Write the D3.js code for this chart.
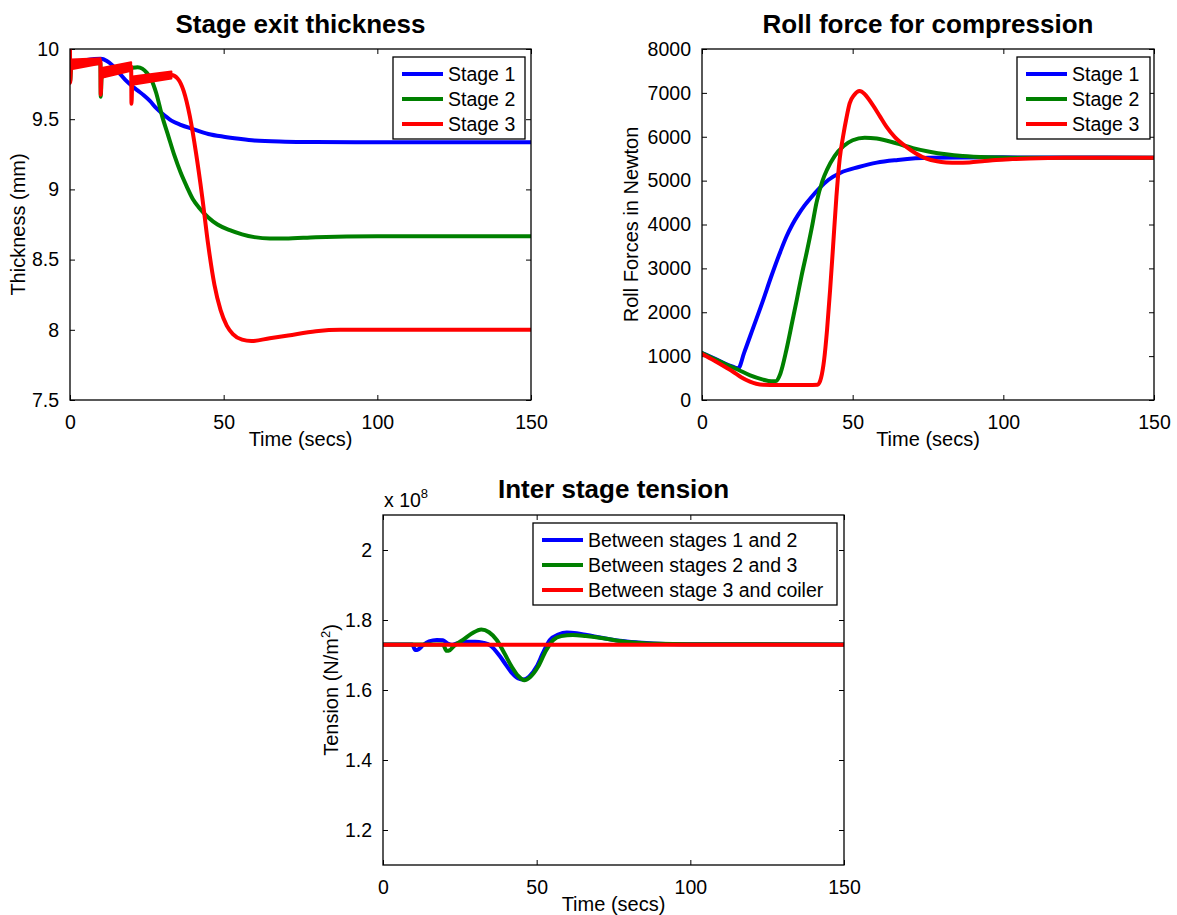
<!DOCTYPE html>
<html>
<head>
<meta charset="utf-8">
<script src="https://cdn.jsdelivr.net/npm/d3@7"></script>
<style>
  html, body { margin: 0; padding: 0; background: #fff; }
  svg { display: block; font-family: "Liberation Sans", Arial, sans-serif; }
</style>
</head>
<body>
<svg id="chart" width="1177" height="915"></svg>
<script>
// ---------------- DATA ----------------
const seriesColors = ["#0000ff", "#008000", "#ff0000"];

const timeTicks = [0, 50, 100, 150];
const timeTickLabels = ["0", "50", "100", "150"];

// Stage exit thickness (mm)
const thickTicks = [7.5, 8, 8.5, 9, 9.5, 10];
const thickTickLabels = ["7.5", "8", "8.5", "9", "9.5", "10"];
const thickLegend = ["Stage 1", "Stage 2", "Stage 3"];

const thickS1Time = [0, 5, 10, 12, 14, 16, 18, 20, 22, 24, 26, 28, 30, 33, 36, 40, 45, 50, 55, 60, 70, 80, 100, 150];
const thickS1 = [9.9, 9.92, 9.93, 9.915, 9.88, 9.83, 9.78, 9.74, 9.705, 9.67, 9.63, 9.58, 9.54, 9.49, 9.46, 9.43, 9.395, 9.375, 9.36, 9.348, 9.34, 9.337, 9.335, 9.335];

const thickS2Time = [0, 0.05, 0.4, 9.9, 10.0, 10.3, 19.9, 22, 23.5, 25, 26.5, 28, 30, 32, 34, 36, 38, 40, 42, 45, 48, 52, 56, 60, 65, 70, 80, 100, 150];
const thickS2 = [9.99, 9.77, 9.875, 9.9, 9.66, 9.8, 9.865, 9.87, 9.86, 9.83, 9.78, 9.69, 9.52, 9.38, 9.24, 9.12, 9.02, 8.93, 8.87, 8.8, 8.75, 8.71, 8.68, 8.66, 8.65, 8.65, 8.66, 8.667, 8.667];

const thickS3Time = [0, 0.05, 0.4, 9.9, 10.0, 10.3, 19.9, 20.0, 20.3, 33, 35, 37, 39, 41, 43, 45, 47, 49, 51, 53, 56, 59, 65, 71, 80, 88, 150];
const thickS3 = [10.0, 9.76, 9.89, 9.915, 9.675, 9.83, 9.875, 9.61, 9.775, 9.815, 9.79, 9.7, 9.52, 9.26, 8.95, 8.6, 8.32, 8.14, 8.03, 7.97, 7.93, 7.92, 7.94, 7.96, 7.99, 8.0, 8.0];

// ripple envelope of stage 3 during the early sawtooth phase (NaN = gap)
const rippleTime = [0.4, 9.9, NaN, 10.3, 19.9, NaN, 20.3, 33];
const rippleHigh = [9.925, 9.935, NaN, 9.865, 9.905, NaN, 9.805, 9.84];
const rippleLow = [9.855, 9.895, NaN, 9.795, 9.845, NaN, 9.745, 9.79];

// Roll force (Newton)
const forceTicks = [0, 1000, 2000, 3000, 4000, 5000, 6000, 7000, 8000];
const forceTickLabels = ["0", "1000", "2000", "3000", "4000", "5000", "6000", "7000", "8000"];
const forceLegend = ["Stage 1", "Stage 2", "Stage 3"];

const forceS1Time = [0, 4, 8, 11, 12, 14, 17, 20, 23, 26, 28, 30, 32, 34, 36, 39, 42, 46, 52, 58, 65, 75, 100, 150];
const forceS1 = [1070, 950, 820, 740, 720, 1080, 1650, 2220, 2820, 3380, 3720, 4000, 4230, 4430, 4600, 4830, 5020, 5180, 5310, 5410, 5470, 5520, 5530, 5520];

const forceS2Time = [0, 4, 8, 12, 16, 20, 23, 24.5, 26, 28, 30, 31.5, 33, 34.7, 36.5, 38, 40, 41.5, 44, 47, 50, 54, 58, 64.5, 70, 75.5, 81, 86.5, 95, 103, 150];
const forceS2 = [1070, 940, 810, 690, 560, 470, 425, 430, 600, 1140, 1800, 2300, 2820, 3350, 3950, 4500, 5000, 5250, 5560, 5790, 5920, 5980, 5960, 5850, 5740, 5660, 5600, 5560, 5530, 5520, 5520];

const forceS3Time = [0, 4, 8, 10.3, 13, 15.9, 18, 20.2, 25, 30, 35, 38.4, 39.5, 40.5, 41.5, 42.5, 43.5, 44.6, 45.7, 46.8, 48, 49, 50.5, 52.3, 54, 56.7, 59, 61.2, 64, 67.8, 71, 74.5, 78, 81, 85, 88.7, 93, 97.6, 103, 108.6, 120, 150];
const forceS3 = [1050, 900, 740, 645, 520, 420, 370, 345, 340, 340, 340, 350, 500, 900, 1600, 2500, 3500, 4630, 5500, 6000, 6450, 6760, 6950, 7040, 6970, 6720, 6470, 6230, 5990, 5770, 5620, 5500, 5440, 5415, 5405, 5415, 5440, 5470, 5490, 5505, 5520, 5520];

// Inter stage tension (x 1e8 N/m^2)
const tensionTicks = [1.2, 1.4, 1.6, 1.8, 2.0];
const tensionTickLabels = ["1.2", "1.4", "1.6", "1.8", "2"];
const tensionLegend = ["Between stages 1 and 2", "Between stages 2 and 3", "Between stage 3 and coiler"];

const tensionS1Time = [0, 9.5, 10.5, 11.5, 13, 15, 17.5, 19.5, 21, 22.3, 24, 27, 30, 32.5, 35, 38, 40, 42, 44, 45.7, 47.5, 50, 52, 54.3, 57, 59.8, 63, 66.3, 72, 77, 83, 88, 96, 150];
const tensionS1 = [1.73, 1.73, 1.714, 1.716, 1.728, 1.739, 1.743, 1.742, 1.733, 1.729, 1.733, 1.738, 1.738, 1.735, 1.727, 1.697, 1.672, 1.648, 1.633, 1.630, 1.638, 1.667, 1.705, 1.743, 1.758, 1.764, 1.762, 1.757, 1.748, 1.741, 1.736, 1.733, 1.731, 1.73];

const tensionS2Time = [0, 19.5, 20.7, 21.8, 23, 26, 29, 32, 34.5, 37, 39.5, 42, 44, 46, 48, 50.5, 53, 55.4, 58, 61.8, 66, 71.6, 77, 82.5, 90, 100, 150];
const tensionS2 = [1.73, 1.73, 1.712, 1.714, 1.725, 1.743, 1.762, 1.773, 1.765, 1.743, 1.705, 1.665, 1.640, 1.628, 1.638, 1.667, 1.712, 1.743, 1.754, 1.757, 1.754, 1.748, 1.740, 1.735, 1.732, 1.731, 1.73];

const tensionS3Time = [0, 150];
const tensionS3 = [1.729, 1.729];

// ---------------- DRAWING ----------------
const svg = d3.select("#chart");
let clipId = 0;

function panel(cfg) {
  const x = d3.scaleLinear().domain([0, 150]).range([cfg.x0, cfg.x1]);
  const y = d3.scaleLinear().domain(cfg.yDomain).range([cfg.y1, cfg.y0]);
  const g = svg.append("g");
  const id = "clip" + (clipId++);
  svg.append("clipPath").attr("id", id).append("rect")
    .attr("x", cfg.x0).attr("y", cfg.y0).attr("width", cfg.x1 - cfg.x0).attr("height", cfg.y1 - cfg.y0);

  // frame ticks (inward, all four sides)
  const tl = 5;
  const axB = d3.axisBottom(x).tickValues(timeTicks).tickFormat((d, i) => timeTickLabels[i]).tickSizeInner(-tl).tickSizeOuter(0).tickPadding(tl + 10);
  g.append("g").attr("transform", `translate(0,${cfg.y1})`).call(axB);
  const axT = d3.axisTop(x).tickValues(timeTicks).tickFormat("").tickSizeInner(-tl).tickSizeOuter(0);
  g.append("g").attr("transform", `translate(0,${cfg.y0})`).call(axT);
  const axL = d3.axisLeft(y).tickValues(cfg.yTicks).tickFormat((d, i) => cfg.yTickLabels[i]).tickSizeInner(-tl).tickSizeOuter(0).tickPadding(tl + 6);
  g.append("g").attr("transform", `translate(${cfg.x0},0)`).call(axL);
  const axR = d3.axisRight(y).tickValues(cfg.yTicks).tickFormat("").tickSizeInner(-tl).tickSizeOuter(0);
  g.append("g").attr("transform", `translate(${cfg.x1},0)`).call(axR);
  g.selectAll(".domain").remove();
  g.selectAll(".tick line").attr("stroke", "#000").attr("stroke-width", 1);
  g.selectAll(".tick text").attr("font-size", 19.5).attr("fill", "#000")
    .attr("font-family", '"Liberation Sans", Arial, sans-serif');

  // data
  const dg = g.append("g").attr("clip-path", `url(#${id})`);
  cfg.series.forEach((s, k) => {
    const pts = s.t.map((t, i) => ({ t, v: s.v[i] }));
    dg.append("path").datum(pts)
      .attr("d", d3.line().x(d => x(d.t)).y(d => y(d.v)).curve(d3.curveMonotoneX))
      .attr("fill", "none").attr("stroke", seriesColors[k]).attr("stroke-width", 4)
      .attr("stroke-linejoin", "round").attr("stroke-linecap", "round");
  });
  if (cfg.band) {
    const b = cfg.band;
    const pts = b.t.map((t, i) => ({ t, lo: b.lo[i], hi: b.hi[i] }));
    dg.append("path").datum(pts)
      .attr("d", d3.area().defined(d => !isNaN(d.t)).x(d => x(d.t)).y0(d => y(d.lo)).y1(d => y(d.hi)))
      .attr("fill", b.color).attr("stroke", b.color).attr("stroke-width", 2).attr("stroke-linejoin", "round");
  }

  // frame box
  g.append("rect").attr("x", cfg.x0).attr("y", cfg.y0).attr("width", cfg.x1 - cfg.x0).attr("height", cfg.y1 - cfg.y0)
    .attr("fill", "none").attr("stroke", "#000").attr("stroke-width", 1.3);

  // title
  g.append("text").attr("x", (cfg.x0 + cfg.x1) / 2).attr("y", cfg.titleY)
    .attr("text-anchor", "middle").attr("font-size", 26).attr("font-weight", "bold").text(cfg.title);
  // x label
  g.append("text").attr("x", (cfg.x0 + cfg.x1) / 2).attr("y", cfg.y1 + 46)
    .attr("text-anchor", "middle").attr("font-size", 20).text("Time (secs)");
  // y label
  const yl = g.append("text")
    .attr("transform", `translate(${cfg.ylabelX},${(cfg.y0 + cfg.y1) / 2}) rotate(-90)`)
    .attr("text-anchor", "middle").attr("font-size", 20);
  if (cfg.ylabelSup) {
    yl.append("tspan").text(cfg.ylabel[0]);
    yl.append("tspan").attr("font-size", 13).attr("dy", -8).text(cfg.ylabel[1]);
    yl.append("tspan").attr("dy", 8).text(cfg.ylabel[2]);
  } else {
    yl.text(cfg.ylabel);
  }

  // legend
  const L = cfg.legend;
  const lg = g.append("g");
  lg.append("rect").attr("x", L.x).attr("y", L.y).attr("width", L.w).attr("height", L.h)
    .attr("fill", "#fff").attr("stroke", "#000").attr("stroke-width", 1.3);
  L.labels.forEach((lab, i) => {
    const cy = L.y + 17 + i * 25;
    lg.append("line").attr("x1", L.x + 9).attr("x2", L.x + 50).attr("y1", cy).attr("y2", cy)
      .attr("stroke", seriesColors[i]).attr("stroke-width", 4);
    lg.append("text").attr("x", L.x + 55).attr("y", cy + 7).attr("font-size", 19.5).text(lab);
  });
  return { x, y, g };
}

panel({
  x0: 70, x1: 531, y0: 49, y1: 400,
  yDomain: [7.5, 10], yTicks: thickTicks, yTickLabels: thickTickLabels,
  title: "Stage exit thickness", titleY: 33,
  ylabel: "Thickness (mm)", ylabelX: 25,
  series: [{ t: thickS1Time, v: thickS1 }, { t: thickS2Time, v: thickS2 }, { t: thickS3Time, v: thickS3 }],
  band: { t: rippleTime, lo: rippleLow, hi: rippleHigh, color: seriesColors[2] },
  legend: { x: 393, y: 57, w: 132, h: 82, labels: thickLegend }
});

panel({
  x0: 702, x1: 1154, y0: 49, y1: 400,
  yDomain: [0, 8000], yTicks: forceTicks, yTickLabels: forceTickLabels,
  title: "Roll force for compression", titleY: 33,
  ylabel: "Roll Forces in Newton", ylabelX: 638,
  series: [{ t: forceS1Time, v: forceS1 }, { t: forceS2Time, v: forceS2 }, { t: forceS3Time, v: forceS3 }],
  legend: { x: 1017, y: 57, w: 133, h: 82, labels: forceLegend }
});

panel({
  x0: 383, x1: 844, y0: 515, y1: 865,
  yDomain: [1.1, 2.1], yTicks: tensionTicks, yTickLabels: tensionTickLabels,
  title: "Inter stage tension", titleY: 498,
  ylabel: ["Tension (N/m", "2", ")"], ylabelSup: true, ylabelX: 338,
  series: [{ t: tensionS1Time, v: tensionS1 }, { t: tensionS2Time, v: tensionS2 }, { t: tensionS3Time, v: tensionS3 }],
  legend: { x: 533, y: 523, w: 304, h: 82, labels: tensionLegend }
});

// exponent label
const ex = svg.append("text").attr("x", 384).attr("y", 507).attr("font-size", 19.5);
ex.append("tspan").text("x 10");
ex.append("tspan").attr("font-size", 13).attr("dy", -9).text("8");
</script>
</body>
</html>
